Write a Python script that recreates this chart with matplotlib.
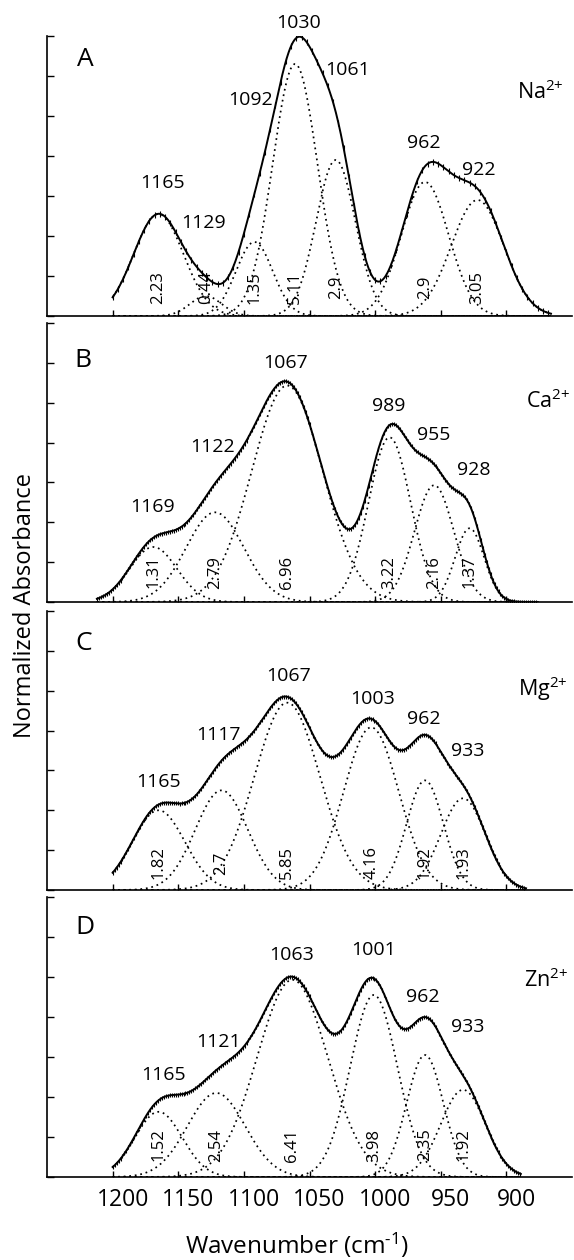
import numpy as np
import matplotlib
matplotlib.use('Agg')
import matplotlib.pyplot as plt
from matplotlib.transforms import ScaledTranslation

plt.rcParams['font.family'] = ['Open Sans', 'DejaVu Sans']
plt.rcParams['mathtext.fontset'] = 'custom'
plt.rcParams['mathtext.rm'] = 'Open Sans'
plt.rcParams['mathtext.default'] = 'regular'

# ---------------------------------------------------------------
# Gaussian components (centre cm-1, height, sigma cm-1)
# ---------------------------------------------------------------
centers_A = [1165, 1129, 1092, 1061, 1030, 962, 922]
heights_A = [2.55, 0.5, 1.85, 6.3, 3.9, 3.35, 2.9]
widths_A = [19, 12, 14, 17, 15, 18, 20]
areas_A = ['2.23', '0.44', '1.35', '5.11', '2.9', '2.9', '3.05']
peaks_A = ['1165', '1129', '1092', '1030', '1061', '962', '922']

centers_B = [1169, 1122, 1067, 989, 955, 928]
heights_B = [1.38, 2.25, 5.43, 4.13, 2.93, 1.85]
widths_B = [18, 22, 27, 16, 15, 11]
areas_B = ['1.31', '2.79', '6.96', '3.22', '2.16', '1.37']
peaks_B = ['1169', '1122', '1067', '989', '955', '928']

centers_C = [1165, 1117, 1067, 1003, 962, 933]
heights_C = [2.0, 2.5, 4.7, 4.08, 2.75, 2.3]
widths_C = [20, 20, 25, 21, 14, 17]
areas_C = ['1.82', '2.7', '5.85', '4.16', '1.92', '1.93']
peaks_C = ['1165', '1117', '1067', '1003', '962', '933']

centers_D = [1165, 1121, 1063, 1001, 962, 933]
heights_D = [1.63, 2.1, 4.93, 4.55, 3.05, 2.18]
widths_D = [18, 22, 27, 18, 14, 17]
areas_D = ['1.52', '2.54', '6.41', '3.98', '2.35', '1.92']
peaks_D = ['1165', '1121', '1063', '1001', '962', '933']

ranges = [(1200, 866), (1212, 876), (1200, 885), (1200, 889)]
letters = ['A', 'B', 'C', 'D']
ions = ['Na$^{2{+}}$', 'Ca$^{2{+}}$', 'Mg$^{2{+}}$', 'Zn$^{2{+}}$']
xticks = [1200, 1150, 1100, 1050, 1000, 950, 900]

# label placement (layout only)
peak_pos = [
    [(1162, 3.33), (1131, 2.33), (1095, 5.4), (1058.5, 7.33), (1021, 6.15), (963, 4.33), (921, 3.65)],
    [(1170, 2.38), (1124, 3.88), (1068, 6.0), (990, 4.93), (955.6, 4.2), (925, 3.3)],
    [(1165, 2.7), (1119.4, 3.88), (1066, 5.37), (1002, 4.8), (963, 4.3), (929.7, 3.5)],
    [(1161.3, 2.55), (1119.4, 3.38), (1063.8, 5.55), (1001.3, 5.68), (964, 4.5), (929.7, 3.75)],
]
area_y = [0.72, 0.75, 0.68, 0.8]
letter_pos = [(1220.8, 6.4), (1223, 6.05), (1222, 6.18), (1220.8, 6.23)]
ion_pos = [(856.6, 5.6), (851.2, 5.05), (853.5, 5.05), (852.8, 4.93)]
marker_step = [4.0, 1.5, 1.5, 1.5]

panels = [
    (centers_A, heights_A, widths_A, areas_A, peaks_A),
    (centers_B, heights_B, widths_B, areas_B, peaks_B),
    (centers_C, heights_C, widths_C, areas_C, peaks_C),
    (centers_D, heights_D, widths_D, areas_D, peaks_D),
]


def gauss(x, c, h, s):
    return h * np.exp(-(x - c) ** 2 / (2.0 * s ** 2))


fig = plt.figure(figsize=(5.74, 12.6), dpi=100)
W, H = 574.0, 1260.0
# (top px, bottom px) of each panel
boxes = [(36, 316), (323, 602), (611, 890), (897, 1177)]

for i, (cen, hgt, wid, area, pk) in enumerate(panels):
    top, bot = boxes[i]
    ax = fig.add_axes([47 / W, 1 - bot / H, 525 / W, (bot - top) / H])
    x0, x1 = ranges[i]
    x = np.linspace(x0, x1, 900)
    total = np.zeros_like(x)
    for c, h, s in zip(cen, hgt, wid):
        comp = gauss(x, c, h, s)
        total += comp
        ax.plot(x, comp, color='k', lw=1.25, linestyle=(0, (1, 2.2)))
    ax.plot(x, total, color='k', lw=1.4)

    xm = np.arange(x0, x1, -marker_step[i])
    ym = sum(gauss(xm, c, h, s) for c, h, s in zip(cen, hgt, wid))
    ax.plot(xm, ym, ls='none', marker='|', ms=4.5 if i == 0 else 3.5,
            mew=0.8, color='k')

    ax.set_xlim(1250, 850)
    ax.set_ylim(0, 7)
    for side in ['top', 'right']:
        ax.spines[side].set_visible(False)
    for side in ['left', 'bottom']:
        ax.spines[side].set_linewidth(1.2)
    ax.set_yticks(np.arange(0, 8))
    ax.set_yticklabels([])
    ax.set_xticks(xticks)
    ax.tick_params(axis='y', direction='in', length=5, width=1)
    ax.tick_params(axis='x', direction='in', length=4, width=1, pad=8,
                   labelsize=16.5)
    if i < 3:
        ax.set_xticklabels([])
    else:
        ax.set_xticklabels([str(t) for t in xticks])
        off = ScaledTranslation(10 / 100, 0, fig.dpi_scale_trans)
        for lab in ax.get_xticklabels():
            lab.set_transform(lab.get_transform() + off)

    for txt, (px, py) in zip(pk, peak_pos[i]):
        ax.text(px, py, txt, ha='center', va='center', fontsize=14)
    for txt, c in zip(area, cen):
        ax.text(c, area_y[i], txt, ha='center', va='center', rotation=90,
                fontsize=12)
    lx, ly = letter_pos[i]
    ax.text(lx, ly, letters[i], ha='center', va='center', fontsize=19)
    ix, iy = ion_pos[i]
    ax.text(ix, iy, ions[i], ha='right', va='center', fontsize=15.5)

fig.text(25 / W, 1 - 605 / H, 'Normalized Absorbance', rotation=90,
         ha='center', va='center', fontsize=17)
fig.text(297 / W, 1 - 1245 / H, r'Wavenumber (cm$^{\text{-}1}$)',
         ha='center', va='center', fontsize=17.5)

fig.savefig('out.png', dpi=100)
